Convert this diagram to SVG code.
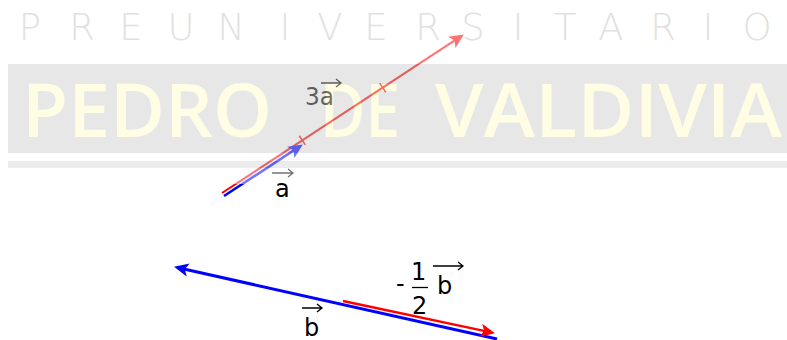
<svg xmlns="http://www.w3.org/2000/svg" width="787" height="340" viewBox="0 0 787 340">
<style>
.lbl{font-family:"DejaVu Sans","Liberation Sans",sans-serif;font-size:24px;fill:#000}
.varr{fill:none;stroke:#000;stroke-width:1.3}
.wm{font-family:"DejaVu Sans","Liberation Sans",sans-serif;font-weight:200;font-stretch:condensed;font-size:37px;fill:#bdbdbd;text-anchor:middle}
.big{font-family:"Open Sans","DejaVu Sans",sans-serif;font-weight:600;font-size:74px;fill:#fffbc4}
</style>
<defs>
<marker id="hr" markerUnits="userSpaceOnUse" markerWidth="20" markerHeight="20" viewBox="-6 -8 18 16" refX="0" refY="0" orient="auto"><path d="M9,0 L-4,-6 L-1,0 L-4,6 Z" fill="#ff0000"/></marker>
<marker id="hb" markerUnits="userSpaceOnUse" markerWidth="20" markerHeight="20" viewBox="-6 -8 18 16" refX="0" refY="0" orient="auto"><path d="M9,0 L-4,-6 L-1,0 L-4,6 Z" fill="#0000ff"/></marker>
</defs>
<rect width="787" height="340" fill="#fff"/>
<g id="connectors">
<line id="v3a" x1="222" y1="193" x2="455.5" y2="39.9" stroke="#ff0000" stroke-width="2" marker-end="url(#hr)"/>
<path id="ticks" d="M299.3,135.7 L305.3,144.9 M379.7,83.1 L385.7,92.3" stroke="#ff0000" stroke-width="1.6" fill="none"/>
<line id="va" x1="224" y1="196" x2="294.5" y2="149.9" stroke="#0000ff" stroke-width="2.5" marker-end="url(#hb)"/>
<line id="vb" x1="497" y1="339" x2="183.8" y2="269" stroke="#0000ff" stroke-width="3" marker-end="url(#hb)"/>
<line id="vhalf" x1="343" y1="301" x2="485.2" y2="331.1" stroke="#ff0000" stroke-width="2.5" marker-end="url(#hr)"/>
</g>
<g id="label-3a">
<text class="lbl" x="305" y="105" textLength="29" lengthAdjust="spacingAndGlyphs" fill="#111">3a</text>
<path class="varr" d="M321,83 H341 M336,79 L341,83 L336,87"/>
</g>
<g id="label-a">
<path class="varr" d="M272,173 H293 M288,169 L293,173 L288,177"/>
</g>
<g id="watermark" opacity="0.45">
<rect x="0" y="0" width="787" height="184" fill="#fff"/>
<rect x="8" y="64" width="779" height="89" fill="#cccccc"/>
<rect x="8" y="161" width="779" height="7" fill="#d6d6d6"/>
<text class="wm" x="30 82 131 181 231 285 330 376 428 473 518 565 611 663 708 757" y="40">PREUNIVERSITARIO</text>
<text class="big" x="22" y="137" textLength="250" lengthAdjust="spacingAndGlyphs">PEDRO</text>
<text class="big" x="320" y="137" textLength="80" lengthAdjust="spacingAndGlyphs">DE</text>
<text class="big" x="435" y="137" textLength="347" lengthAdjust="spacingAndGlyphs">VALDIVIA</text>
</g>
<g id="label-a-text">
<text class="lbl" x="275" y="197">a</text>
</g>
<g id="label-b">
<text class="lbl" x="304" y="336">b</text>
<path class="varr" d="M302,308 H322 M317,304 L322,308 L317,312"/>
</g>
<g id="label-half-b">
<text class="lbl" x="396" y="292">-</text>
<text class="lbl" x="411" y="280">1</text>
<line x1="412" y1="287.5" x2="428" y2="287.5" stroke="#000" stroke-width="1.3"/>
<text class="lbl" x="412" y="314">2</text>
<text class="lbl" x="437" y="294">b</text>
<path class="varr" d="M433,266 H463 M458,262 L463,266 L458,270"/>
</g>
</svg>
